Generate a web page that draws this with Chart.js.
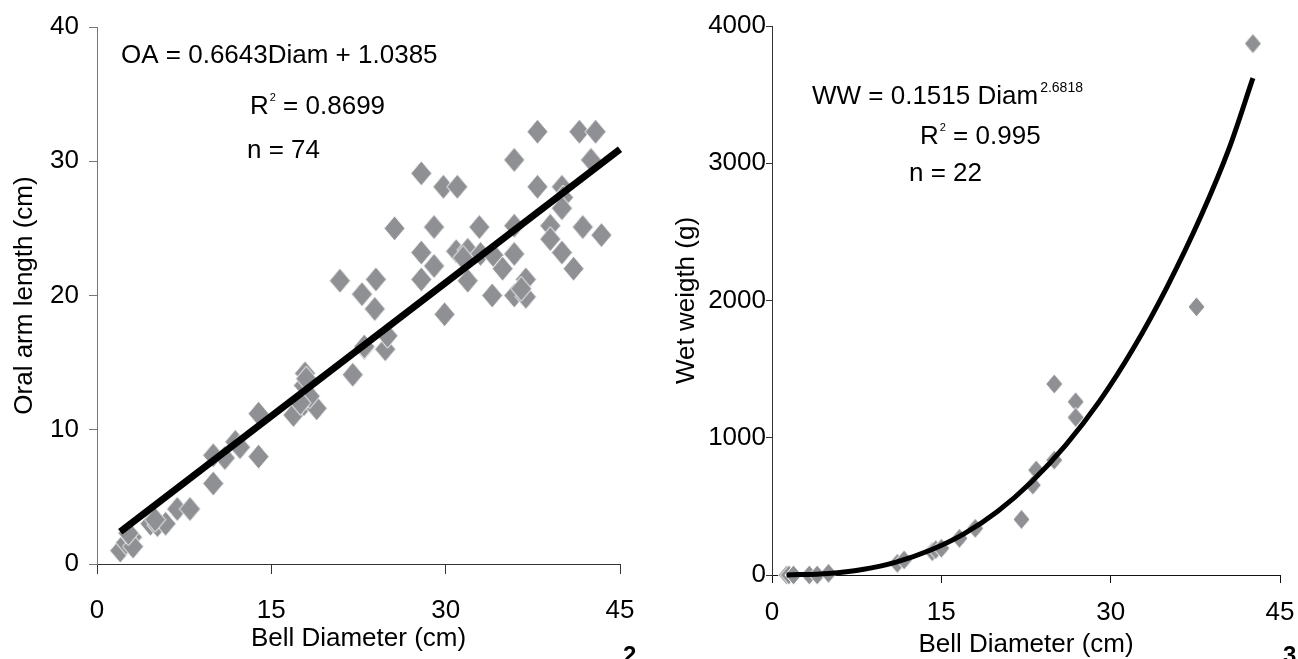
<!DOCTYPE html>
<html><head><meta charset="utf-8">
<script src="https://cdn.jsdelivr.net/npm/chart.js@4.4.1/dist/chart.umd.min.js"></script>
<style>
html,body{margin:0;padding:0;background:#fff;overflow:hidden;}
#wrap{position:relative;width:1298px;height:659px;}
canvas{position:absolute;top:0;}
#c1{left:0;} #c2{left:650px;}
</style></head><body>
<div id="wrap"><canvas id="c1" width="650" height="659"></canvas><canvas id="c2" width="648" height="659"></canvas></div>
<script>
const FONT = "'Liberation Sans', Arial, Helvetica, sans-serif";

// ---- Chart 2: Oral arm length vs bell diameter ----
const bellDiamOA = [2.0, 2.5, 3.0, 3.1, 2.7, 4.6, 5.2, 5.9, 5.0, 6.9, 8.0, 10.0, 10.0, 11.0, 11.9, 12.3, 13.9, 13.9, 16.9, 17.8, 18.9, 17.9, 17.8, 18.3, 18.0, 22.0, 23.0, 24.8, 25.0, 20.9, 24.0, 22.8, 23.9, 25.6, 27.9, 29.8, 31.0, 29.0, 27.9, 29.0, 27.9, 29.9, 30.9, 31.9, 33.0, 32.9, 34.1, 34.9, 31.9, 34.0, 35.9, 36.9, 36.9, 35.9, 35.9, 35.9, 37.9, 37.9, 40.0, 40.1, 40.0, 39.0, 39.0, 40.0, 41.0, 41.5, 42.9, 42.5, 41.8, 43.4, 23.0, 36.5, 31.5, 17.5];
const oralArmLength = [1.0, 1.6, 2.0, 1.3, 2.3, 3.0, 2.9, 3.0, 3.3, 4.1, 4.1, 6.0, 8.1, 7.9, 9.1, 8.7, 11.2, 8.0, 11.1, 11.9, 11.6, 14.2, 13.3, 12.5, 13.8, 14.1, 16.1, 16.0, 17.0, 21.1, 21.2, 20.1, 19.0, 25.0, 29.1, 28.1, 28.1, 25.1, 23.2, 22.2, 21.2, 18.6, 23.3, 23.4, 23.1, 25.1, 23.0, 22.0, 21.1, 20.0, 20.0, 19.9, 21.2, 23.1, 25.2, 30.1, 32.2, 28.1, 28.1, 27.3, 26.5, 25.2, 24.2, 23.2, 22.0, 32.2, 32.2, 30.1, 25.1, 24.5, 16.2, 20.5, 22.8, 12.0];
const oaFitX = [2.0, 45.0];
const oaFitY = [2.4, 30.9];
const oaXTicks = [0, 15, 30, 45];
const oaYTicks = [0, 10, 20, 30, 40];

// ---- Chart 3: Wet weight vs bell diameter ----
const bellDiamWW = [1.3, 1.5, 1.9, 3.3, 4.0, 5.0, 11.1, 11.7, 14.2, 14.5, 15.0, 16.6, 18.0, 22.1, 23.1, 23.4, 25.0, 25.0, 26.9, 26.9, 37.6, 42.6];
const wetWeight = [0, 0, 0, 0, 0, 12, 85, 110, 170, 185, 195, 267, 340, 405, 655, 765, 837, 1392, 1262, 1148, 1954, 3872];
const wwFitX = [1.3, 5, 8, 11, 14, 17, 20, 23, 26, 29, 32, 35, 38, 40.5, 42.6];
const wwFitY = [0, 11, 40, 94, 180, 300, 465, 680, 945, 1265, 1650, 2100, 2615, 3110, 3620];
const wwXTicks = [0, 15, 30, 45];
const wwYTicks = [0, 1000, 2000, 3000, 4000];

const GRAY = 'rgb(142,144,147)';
function makeDiamond(w, h) {
  const c = document.createElement('canvas');
  c.width = w + 2; c.height = h + 2;
  const g = c.getContext('2d');
  g.beginPath();
  g.moveTo((w + 2) / 2, 1); g.lineTo(w + 1, (h + 2) / 2); g.lineTo((w + 2) / 2, h + 1); g.lineTo(1, (h + 2) / 2); g.closePath();
  g.fillStyle = GRAY; g.fill();
  g.strokeStyle = '#fff'; g.lineWidth = 1; g.stroke();
  return c;
}
const diamondL = makeDiamond(21, 25);
const diamondR = makeDiamond(17, 20);

function pts(xs, ys) { return xs.map((x, i) => ({x: x, y: ys[i]})); }

function textPlugin(items) {
  return {
    id: 'annot',
    afterDraw(chart) {
      const ctx = chart.ctx;
      ctx.save();
      ctx.fillStyle = '#000';
      ctx.textAlign = 'left';
      ctx.textBaseline = 'middle';
      for (const it of items) {
        let x = it.x;
        for (const p of it.parts) {
          ctx.font = (p.bold ? 'bold ' : '') + p.size + 'px ' + FONT;
          ctx.fillText(p.t, x, it.y + (p.dy || 0));
          x += ctx.measureText(p.t).width + (p.gap || 0);
        }
      }
      ctx.restore();
    }
  };
}

function axisX(ticksArr, h, tickLen, pad, titlePad, lineCol) {
  return {
    type: 'linear', position: 'bottom', min: ticksArr[0], max: ticksArr[ticksArr.length - 1],
    afterBuildTicks: s => { s.ticks = ticksArr.map(v => ({value: v})); },
    afterFit: s => { s.height = h; s.paddingRight = 0; s.paddingLeft = 0; },
    grid: {drawOnChartArea: false, drawTicks: true, tickLength: tickLen, color: lineCol, lineWidth: 1},
    border: {display: true, color: lineCol, width: 1},
    ticks: {padding: pad, color: '#000', font: {family: FONT, size: 26}, maxRotation: 0, autoSkip: false, callback: v => String(v)},
    title: {display: true, text: 'Bell Diameter (cm)', color: '#000', font: {family: FONT, size: 26, lineHeight: 1}, padding: {top: 0, bottom: titlePad}}
  };
}
function axisY(ticksArr, w, tickLen, pad, titleText, titlePad, lineCol) {
  return {
    type: 'linear', position: 'left', min: ticksArr[0], max: ticksArr[ticksArr.length - 1],
    afterBuildTicks: s => { s.ticks = ticksArr.map(v => ({value: v})); },
    afterFit: s => { s.width = w; },
    grid: {drawOnChartArea: false, drawTicks: true, tickLength: tickLen, color: lineCol, lineWidth: 1},
    border: {display: true, color: lineCol, width: 1},
    ticks: {padding: pad, color: '#000', font: {family: FONT, size: 26}, autoSkip: false, callback: v => String(v)},
    title: {display: true, text: titleText, color: '#000', font: {family: FONT, size: 26, lineHeight: 1}, padding: {top: titlePad, bottom: 0}}
  };
}

new Chart(document.getElementById('c1'), {
  type: 'scatter',
  data: {datasets: [
    {type: 'line', data: pts(oaFitX, oaFitY), borderColor: '#000', borderWidth: 7, pointRadius: 0, fill: false, tension: 0, borderCapStyle: 'butt', clip: false},
    {data: pts(bellDiamOA, oralArmLength), pointStyle: diamondL, pointRadius: 12, showLine: false, clip: false}
  ]},
  options: {
    responsive: false, animation: false, devicePixelRatio: 1,
    layout: {padding: {left: 0, right: 30, top: 27, bottom: 0}},
    plugins: {legend: {display: false}, tooltip: {enabled: false}},
    scales: {
      x: axisX(oaXTicks, 95, 10, 21, 7, '#333'),
      y: axisY(oaYTicks, 97, 8, 10, 'Oral arm length (cm)', 12, '#777')
    }
  },
  plugins: [textPlugin([
    {x: 121, y: 56, parts: [{t: 'OA = 0.6643Diam + 1.0385', size: 26}]},
    {x: 250, y: 107, parts: [{t: 'R', size: 26, gap: 1}, {t: '2', size: 11, dy: -9}, {t: ' = 0.8699', size: 26}]},
    {x: 247, y: 151, parts: [{t: 'n = 74', size: 26}]},
    {x: 623, y: 656, parts: [{t: '2', size: 24, bold: true}]}
  ])]
});

new Chart(document.getElementById('c2'), {
  type: 'scatter',
  data: {datasets: [
    {type: 'line', data: pts(wwFitX, wwFitY), borderColor: '#000', borderWidth: 5, pointRadius: 0, fill: false, cubicInterpolationMode: 'monotone', borderCapStyle: 'butt', clip: false},
    {data: pts(bellDiamWW, wetWeight), pointStyle: diamondR, pointRadius: 10, showLine: false, clip: false}
  ]},
  options: {
    responsive: false, animation: false, devicePixelRatio: 1,
    layout: {padding: {left: 0, right: 18, top: 26, bottom: 0}},
    plugins: {legend: {display: false}, tooltip: {enabled: false}},
    scales: {
      x: axisX(wwXTicks, 84, 8, 14, 1, '#111'),
      y: axisY(wwYTicks, 122, 6, 0, 'Wet weigth (g)', 24, '#333')
    }
  },
  plugins: [textPlugin([
    {x: 162, y: 97, parts: [{t: 'WW = 0.1515 Diam', size: 26, gap: 2}, {t: '2.6818', size: 14, dy: -9}]},
    {x: 270, y: 137, parts: [{t: 'R', size: 26, gap: 1}, {t: '2', size: 11, dy: -9}, {t: ' = 0.995', size: 26}]},
    {x: 259, y: 174, parts: [{t: 'n = 22', size: 26}]},
    {x: 633, y: 656, parts: [{t: '3', size: 24, bold: true}]}
  ])]
});
</script>
</body></html>
